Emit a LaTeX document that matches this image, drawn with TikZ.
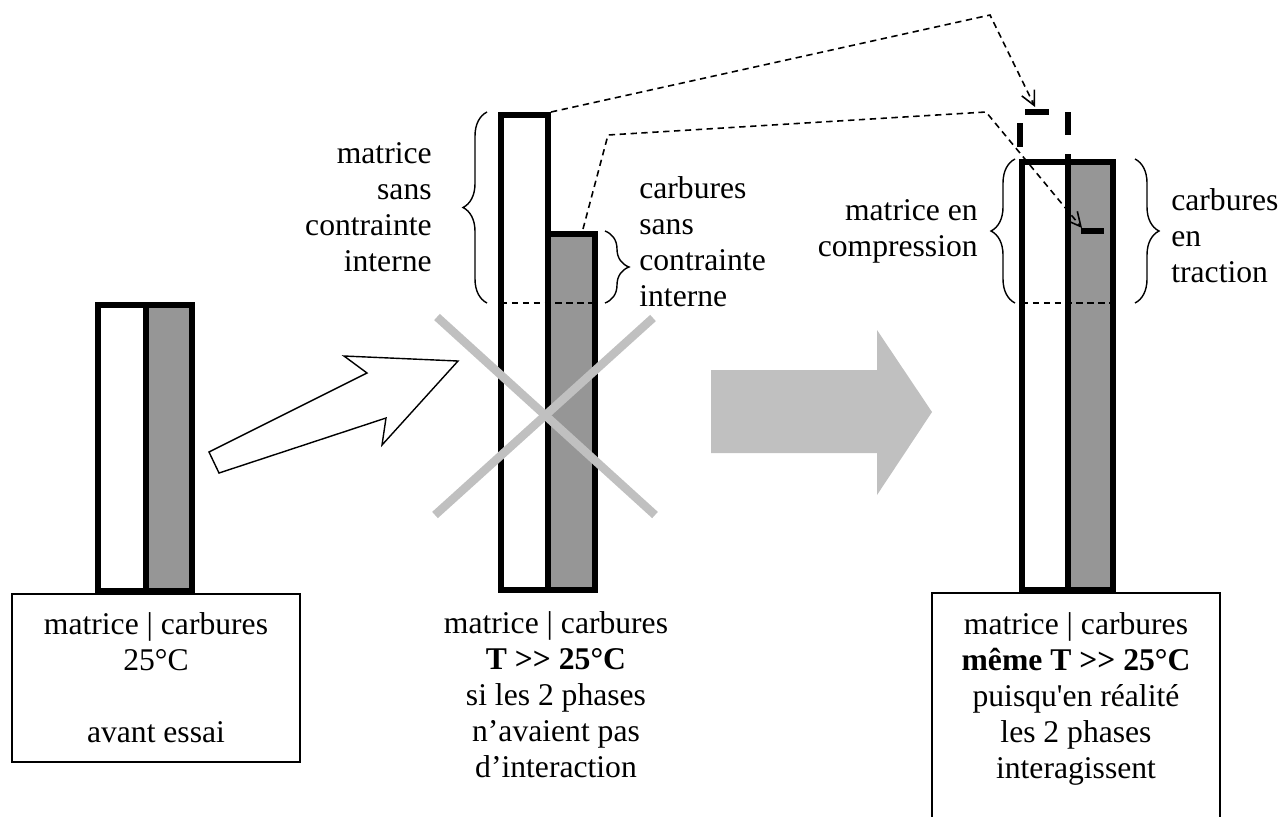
\documentclass[tikz,border=0pt]{standalone}
\usepackage{fontspec}
\usepackage{xcolor}
\newfontfamily\tnr{Liberation Serif}
\usetikzlibrary{decorations.pathreplacing,arrows.meta}
\definecolor{griscarb}{RGB}{150,150,150}
\definecolor{grisclair}{RGB}{192,192,192}

\begin{document}
\begin{tikzpicture}[x=0.02cm,y=-0.02cm,
    barre/.style={line width=3.2pt},
    trait/.style={line width=3pt},
    pointille/.style={dash pattern=on 3.6pt off 2.6pt,line width=0.9pt},
    accolade/.style={decorate,decoration={brace,amplitude=0.48cm},line width=0.8pt},
    txt/.style={font=\tnr\fontsize{18}{20.5}\selectfont,inner sep=0pt,align=center},
    cadre/.style={draw,line width=1.1pt}]
        \useasboundingbox (0,0) rectangle (1280,816);
        \draw[barre,fill=white] (98,305) rectangle (146,591);
        \draw[barre,fill=griscarb] (146,305) rectangle (192,591);
        \node[cadre,txt,minimum width=5.76cm,minimum height=3.36cm] (avant) at (156,678) {matrice | carbures\\25°C\\[20.5pt]avant essai};
        \draw[line width=0.8pt,fill=white] (219,473) -- (209,452) -- (367,373) -- (344,356) -- (458,361) -- (382,445) -- (386,418) -- cycle;
        \draw[barre,fill=white] (501,115) rectangle (548,590);
        \draw[barre,fill=griscarb] (548,234) rectangle (595,590);
        \draw[pointille] (501,303) -- (595,303);
        \coordinate (topmat) at (551,112);
        \coordinate (topcarb) at (583,229);
        \draw[accolade] (487,303) -- (487,112);
        \draw[accolade] (605,231) -- (605,303);
        \node[txt,align=right,anchor=east] (matlibre) at (432,207) {matrice\\sans\\contrainte\\interne};
        \node[txt,align=left,anchor=west] (carblibre) at (639,242) {carbures\\sans\\contrainte\\interne};
        \draw[grisclair,line width=4.8pt] (437,317) -- (655,515);
        \draw[grisclair,line width=4.8pt] (653,318) -- (435,515);
        \node[txt] (hypo) at (556,695) {matrice | carbures\\\textbf{T >> 25°C}\\si les 2 phases\\n’avaient pas\\d’interaction};
        \fill[grisclair] (711,370) -- (877,370) -- (877,330) -- (932,412) -- (877,495) -- (877,453) -- (711,453) -- cycle;
        \draw[barre,fill=white] (1022,162) rectangle (1068,590);
        \draw[barre,fill=griscarb] (1068,162) rectangle (1113,590);
        \draw[trait] (1068,154) -- (1068,162);
        \draw[pointille] (1022,303) -- (1113,303);
        \draw[trait] (1025,112) -- (1049,112);
        \draw[trait] (1020,123) -- (1020,147);
        \draw[trait] (1068,112) -- (1068,135);
        \draw[trait] (1081,231) -- (1104,231);
        \coordinate (finmat) at (1035,107);
        \coordinate (fincarb) at (1082,228);
        \draw[pointille,-{Straight Barb[length=8pt,width=8pt]}] (topmat) -- (990,15) -- (finmat);
        \draw[pointille,-{Straight Barb[length=8pt,width=8pt]}] (topcarb) -- (608,135) -- (986,112) -- (fincarb);
        \draw[accolade] (1015,303) -- (1015,159);
        \draw[accolade] (1135,159) -- (1135,303);
        \node[txt,align=right,anchor=east] (compr) at (978,231) {matrice en\\compression};
        \node[txt,align=left,anchor=west] (tract) at (1171,236) {carbures\\en\\traction};
        \draw[cadre] (932,830) -- (932,593) -- (1220,593) -- (1220,830);
        \node[txt] (reel) at (1076,699) {matrice | carbures\\\textbf{même T >> 25°C}\\puisqu'en réalité\\les 2 phases\\interagissent};
    \end{tikzpicture}
\end{document}
